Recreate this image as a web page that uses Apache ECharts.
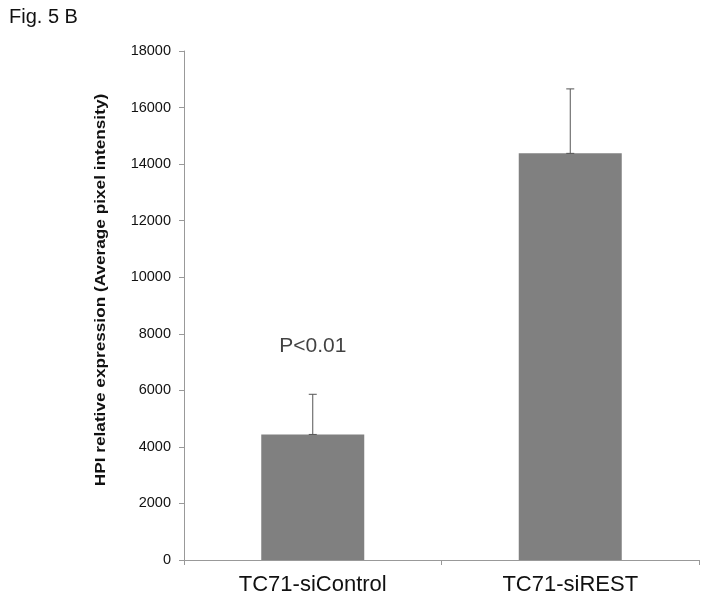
<!DOCTYPE html>
<html>
<head>
<meta charset="utf-8">
<script src="https://cdn.jsdelivr.net/npm/echarts@6/dist/echarts.min.js"></script>
<style>
html,body{margin:0;padding:0;background:#fff;}
#chart{width:704px;height:599px;}
</style>
</head>
<body>
<div id="chart"></div>
<script>
const categories = ['TC71-siControl', 'TC71-siREST'];
const values = [4440, 14380];
const errors = [1420, 2280];
const yTicks = [0, 2000, 4000, 6000, 8000, 10000, 12000, 14000, 16000, 18000];
const figLabel = 'Fig. 5 B';
const yTitle = 'HPI relative expression (Average pixel intensity)';
const pText = 'P<0.01';
const pPos = [0, 7550];

const FONT = '"Liberation Sans", Arial, sans-serif';
const chart = echarts.init(document.getElementById('chart'), null, {renderer: 'canvas'});

const errData = values.map((v, i) => [i, v, v + errors[i]]);

const option = {
  animation: false,
  backgroundColor: '#fff',
  title: {
    text: figLabel, left: 4, top: 2,
    textStyle: {fontFamily: FONT, fontSize: 20, fontWeight: 'normal', color: '#111'}
  },
  grid: {left: 184, right: 5, top: 51, bottom: 39, containLabel: false},
  xAxis: {
    type: 'category', data: categories,
    boundaryGap: true,
    axisLine: {lineStyle: {color: '#999', width: 1}},
    axisTick: {show: true, alignWithLabel: false, length: 5, lineStyle: {color: '#999'}},
    axisLabel: {fontFamily: FONT, fontSize: 22, color: '#111', margin: 14}
  },
  yAxis: {
    type: 'value', min: yTicks[0], max: yTicks[yTicks.length - 1], interval: 2000,
    axisLine: {show: true, lineStyle: {color: '#999', width: 1}},
    axisTick: {show: true, length: 5, lineStyle: {color: '#999'}},
    splitLine: {show: false},
    axisLabel: {fontFamily: FONT, fontSize: 14.5, color: '#111', margin: 13,
      formatter: function (v) { return String(v); }}
  },
  series: [
    {
      type: 'bar', data: values, barWidth: '40%',
      itemStyle: {color: '#808080'}
    },
    {
      type: 'custom',
      data: errData,
      z: 5,
      renderItem: function (params, api) {
        const x = api.value(0);
        const top = api.coord([x, api.value(2)]);
        const bot = api.coord([x, api.value(1)]);
        const hw = 4;
        const st = {stroke: '#555', lineWidth: 1};
        return {
          type: 'group',
          children: [
            {type: 'line', shape: {x1: top[0], y1: top[1], x2: bot[0], y2: bot[1]}, style: st},
            {type: 'line', shape: {x1: top[0] - hw, y1: top[1], x2: top[0] + hw, y2: top[1]}, style: st},
            {type: 'line', shape: {x1: bot[0] - hw, y1: bot[1], x2: bot[0] + hw, y2: bot[1]}, style: st}
          ]
        };
      }
    },
    {
      type: 'scatter',
      data: [pPos],
      symbolSize: 0,
      silent: true,
      label: {
        show: true, position: 'inside',
        formatter: pText,
        fontFamily: FONT, fontSize: 21, color: '#111'
      }
    }
  ],
  graphic: [
    {
      type: 'text',
      x: 101, y: 290,
      rotation: Math.PI / 2,
      scaleX: 1.11,
      style: {
        text: yTitle, fontFamily: FONT, fontSize: 15.5, fontWeight: 'bold',
        fill: '#111', align: 'center', verticalAlign: 'middle'
      }
    }
  ]
};
chart.setOption(option);
</script>
</body>
</html>
